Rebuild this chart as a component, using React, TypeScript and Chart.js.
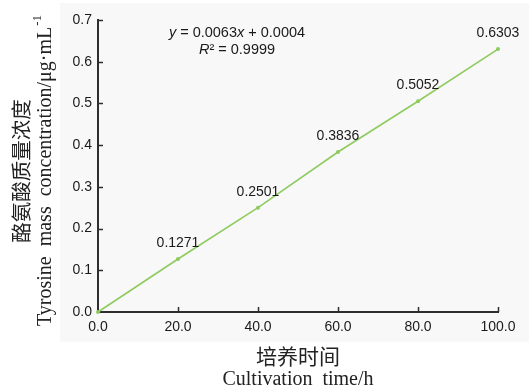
import React, { useEffect, useRef } from "react";
import { Chart, registerables } from "chart.js";

Chart.register(...registerables);

const times = [0, 20, 40, 60, 80, 100];
const concentrations = [0, 0.1271, 0.2501, 0.3836, 0.5052, 0.6303];
const pointLabels = ["", "0.1271", "0.2501", "0.3836", "0.5052", "0.6303"];
const xTickValues = [0, 20, 40, 60, 80, 100];
const yTickValues = [0, 0.1, 0.2, 0.3, 0.4, 0.5, 0.6, 0.7];
const equationLine1 = [
  { t: "y", italic: true },
  { t: " = 0.0063", italic: false },
  { t: "x", italic: true },
  { t: " + 0.0004", italic: false },
];
const equationLine2 = [
  { t: "R", italic: true },
  { t: "² = 0.9999", italic: false },
];
const xTitleCn = "培养时间";
const xTitleEn = "Cultivation  time/h";
const yTitleCn = "酪氨酸质量浓度";
const yTitleEn = "Tyrosine  mass  concentration/μg·mL";
const yTitleSup = "-1";

const SANS = "'Liberation Sans', Arial, sans-serif";
const SERIF = "'Liberation Serif', 'Times New Roman', serif";
const CJK = "'Noto Sans CJK SC', sans-serif";

const decorPlugin = {
  id: "decor",
  beforeDraw(chart: any) {
    const ctx = chart.ctx;
    ctx.save();
    ctx.fillStyle = "#ffffff";
    ctx.fillRect(0, 0, chart.width, chart.height);
    ctx.fillStyle = "#f8f8f8";
    ctx.fillRect(60, 3, chart.width - 60, 339);
    ctx.restore();
  },
  afterDraw(chart: any) {
    const ctx = chart.ctx;
    const xs = chart.scales.x;
    const ys = chart.scales.y;
    const area = chart.chartArea;
    ctx.save();
    // inward tick marks
    ctx.strokeStyle = "#2e2e2e";
    ctx.lineWidth = 1.5;
    xTickValues.forEach((v) => {
      if (v === 0) return;
      const px = Math.round(xs.getPixelForValue(v)) + 0.5;
      ctx.beginPath();
      ctx.moveTo(px, area.bottom);
      ctx.lineTo(px, area.bottom - 5);
      ctx.stroke();
    });
    yTickValues.forEach((v) => {
      if (v === 0) return;
      const py = Math.round(ys.getPixelForValue(v)) + 0.5;
      ctx.beginPath();
      ctx.moveTo(area.left, py);
      ctx.lineTo(area.left + 5, py);
      ctx.stroke();
    });

    // equation
    const drawParts = (parts: any[], cx: number, cy: number) => {
      let total = 0;
      const widths = parts.map((p) => {
        ctx.font = `${p.italic ? "italic " : ""}14.5px ${SANS}`;
        const w = ctx.measureText(p.t).width;
        total += w;
        return w;
      });
      let x = cx - total / 2;
      ctx.fillStyle = "#1a1a1a";
      ctx.textBaseline = "middle";
      ctx.textAlign = "left";
      parts.forEach((p, i) => {
        ctx.font = `${p.italic ? "italic " : ""}14.5px ${SANS}`;
        ctx.fillText(p.t, x, cy);
        x += widths[i];
      });
    };
    drawParts(equationLine1, 237, 33);
    drawParts(equationLine2, 237, 50);

    // data labels
    const meta = chart.getDatasetMeta(0);
    ctx.font = `14px ${SANS}`;
    ctx.fillStyle = "#1a1a1a";
    ctx.textAlign = "center";
    ctx.textBaseline = "middle";
    meta.data.forEach((el: any, i: number) => {
      if (!pointLabels[i]) return;
      ctx.fillText(pointLabels[i], el.x, el.y - 16);
    });

    // x titles
    const cxTitle = (area.left + area.right) / 2;
    ctx.fillStyle = "#222";
    ctx.font = `21px ${CJK}`;
    ctx.fillText(xTitleCn, cxTitle, 356);
    ctx.font = `20px ${SERIF}`;
    ctx.fillText(xTitleEn, cxTitle, 380);

    // y titles
    const cyTitle = 171;
    ctx.save();
    ctx.translate(21, cyTitle);
    ctx.rotate(-Math.PI / 2);
    ctx.font = `20.5px ${CJK}`;
    ctx.textAlign = "center";
    ctx.fillText(yTitleCn, 0, 0);
    ctx.restore();

    ctx.save();
    ctx.translate(46, cyTitle);
    ctx.rotate(-Math.PI / 2);
    ctx.font = `20px ${SERIF}`;
    const wMain = ctx.measureText(yTitleEn).width;
    ctx.font = `13px ${SERIF}`;
    const wSup = ctx.measureText(yTitleSup).width;
    const start = -(wMain + wSup) / 2;
    ctx.textAlign = "left";
    ctx.font = `20px ${SERIF}`;
    ctx.fillText(yTitleEn, start, 0);
    ctx.font = `13px ${SERIF}`;
    ctx.fillText(yTitleSup, start + wMain + 1, -8);
    ctx.restore();

    ctx.restore();
  },
};

export default function App() {
  const canvasRef = useRef<HTMLCanvasElement | null>(null);

  useEffect(() => {
    document.body.style.margin = "0";
    const canvas = canvasRef.current;
    if (!canvas) return;
    const chart = new Chart(canvas, {
      type: "line",
      data: {
        datasets: [
          {
            data: times.map((t, i) => ({ x: t, y: concentrations[i] })),
            borderColor: "#8fcb5f",
            backgroundColor: "#8fcb5f",
            borderWidth: 1.6,
            pointRadius: 2,
            pointBorderWidth: 0,
            pointBackgroundColor: "#8fcb5f",
            clip: false as any,
            tension: 0,
          },
        ],
      },
      options: {
        responsive: false,
        animation: false,
        devicePixelRatio: 1,
        layout: { padding: { left: 0, top: 20, right: 31, bottom: 0 } },
        plugins: {
          legend: { display: false },
          tooltip: { enabled: false },
        },
        scales: {
          x: {
            type: "linear",
            min: 0,
            max: 100,
            afterBuildTicks: (scale: any) => {
              scale.ticks = xTickValues.map((v) => ({ value: v }));
            },
            ticks: {
              callback: (v: any) => Number(v).toFixed(1),
              font: { size: 14, family: SANS },
              color: "#1a1a1a",
              padding: 7,
              maxRotation: 0,
              autoSkip: false,
            },
            grid: { display: false, drawTicks: false },
            border: { display: true, color: "#2e2e2e", width: 2 },
            afterFit: (scale: any) => {
              scale.height = 77;
            },
          },
          y: {
            type: "linear",
            min: 0,
            max: 0.7,
            afterBuildTicks: (scale: any) => {
              scale.ticks = yTickValues.map((v) => ({ value: v }));
            },
            ticks: {
              callback: (v: any) => Number(v).toFixed(1),
              font: { size: 14, family: SANS },
              color: "#1a1a1a",
              padding: 6,
              autoSkip: false,
            },
            grid: { display: false, drawTicks: false },
            border: { display: true, color: "#2e2e2e", width: 2 },
            afterFit: (scale: any) => {
              scale.width = 98;
            },
          },
        },
      },
      plugins: [decorPlugin],
    });
    return () => chart.destroy();
  }, []);

  return (
    <div style={{ width: 529, height: 389 }}>
      <canvas ref={canvasRef} width={529} height={389} style={{ display: "block" }} />
    </div>
  );
}
